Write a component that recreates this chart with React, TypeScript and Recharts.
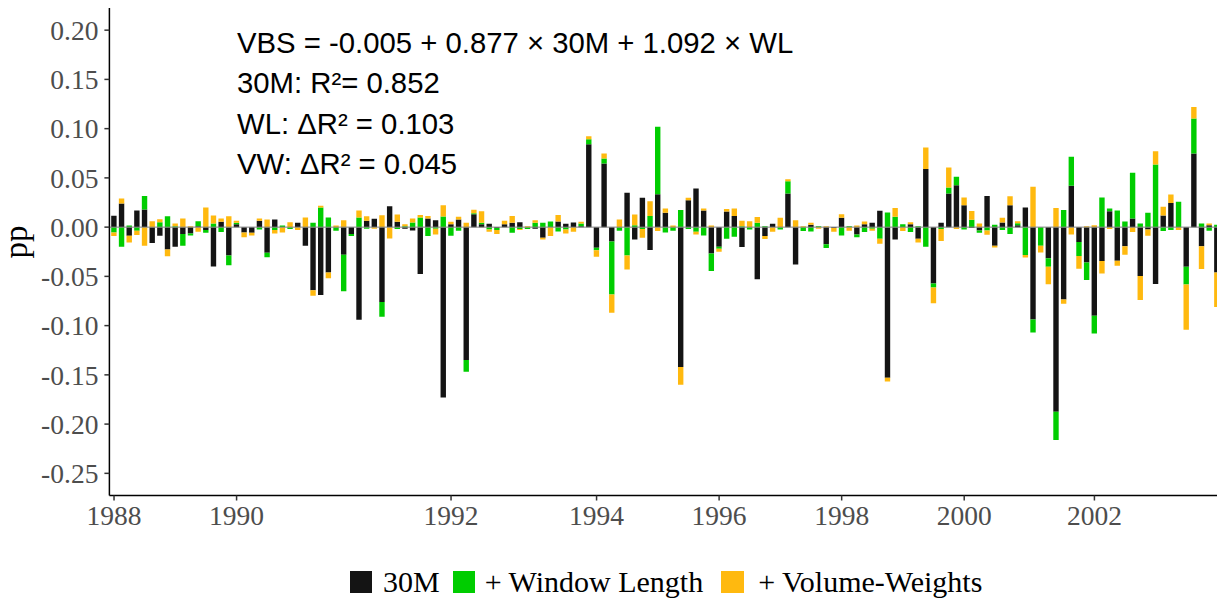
import React from 'react';
import { BarChart, Bar, XAxis, YAxis, ReferenceLine, Legend, Customized } from 'recharts';

// Policy-announcement events, numbered in order (1988 – 2003)
const eventCount = 145;
const events: string[] = Array.from({ length: eventCount }, (_, i) => String(i + 1));

// 30-minute window surprise (pp)
const m30 = [
  0.0115, 0.024, -0.0088, 0.017, 0.018, -0.016, -0.0088, -0.0227, -0.02, -0.007,
  -0.0064, 0.001, -0.003, -0.04, 0.0054, -0.0288, 0.003, -0.0054, -0.0058, 0.0064,
  -0.026, 0.0078, 0, 0, 0.0044, -0.019, -0.064, -0.069, -0.046, 0,
  -0.028, -0.007, -0.094, 0.0064, 0.0085, -0.076, 0.0213, 0.0054, -0.0017, -0.0034,
  -0.0477, 0.0088, 0.0071, -0.173, 0.003, 0.0078, -0.135, 0.0132, 0.003, 0.0034,
  -0.001, 0.003, 0.0044, 0.005, 0, -0.0017, -0.0108, 0, 0.0058, 0.0034,
  0.0047, 0.001, 0.0842, -0.021, 0.0646, -0.0145, 0, 0.0348, -0.0125, 0.0298,
  -0.0233, 0.0335, 0.0145, 0, -0.142, 0.0274, 0.0392, 0.0169, -0.0267, -0.02,
  0.0159, 0.0112, -0.0203, 0, -0.0528, -0.0091, 0.0034, 0, 0.0342, -0.0379,
  0, 0.0024, 0, -0.0173, -0.001, 0.0095, 0, -0.0074, 0.003, 0.0044,
  0.0166, -0.153, -0.0125, 0, 0.003, -0.0118, 0.0589, -0.0572, 0.0044, 0.0342,
  0.0426, 0.0223, -0.001, -0.0034, 0.0315, -0.0189, 0.0047, 0.0223, 0.002, 0.02,
  -0.0937, 0, -0.0315, -0.1874, -0.0734, 0.042, -0.0152, -0.0358, -0.09, -0.0345,
  0.0162, -0.0342, -0.0193, 0.0088, -0.0497, -0.0024, -0.0578, 0.0118, 0.0244, 0,
  -0.0403, 0.0748, -0.0193, 0.002, -0.046,
];

// Additional contribution from the window length (pp)
const wl = [
  -0.0054, -0.02, 0.0017, -0.0037, 0.0135, 0, 0.005, 0.011, 0.001, -0.012,
  -0.002, 0.005, -0.0027, 0.0037, -0.005, -0.0098, 0.0014, 0, 0, -0.0024,
  -0.0047, -0.003, 0.0017, -0.002, 0, 0, 0.0044, 0.02, 0.0098, -0.0037,
  -0.037, -0.002, 0.0098, -0.0017, 0, -0.015, 0, -0.002, 0.001, 0.0047,
  0.0098, -0.0091, -0.0017, 0.0108, -0.0088, -0.0037, -0.0118, 0.001, 0.0014, -0.0024,
  -0.002, 0, -0.0058, -0.002, -0.002, 0.0044, 0.0044, 0.0058, -0.0044, -0.0024,
  0, 0.0027, 0.0051, -0.0024, 0.0051, -0.0538, -0.0037, -0.0288, 0.002, -0.002,
  0.0112, 0.0683, -0.0054, -0.0037, 0.0173, -0.002, -0.0047, -0.0085, -0.0179, -0.002,
  -0.0118, -0.0098, 0.001, -0.0024, 0.0044, 0.001, 0, -0.0024, 0.0125, 0,
  -0.004, -0.0044, 0.001, -0.004, 0, -0.0085, 0.001, -0.003, -0.005, -0.0017,
  -0.0118, 0.0149, 0.0105, 0.003, -0.005, 0.001, -0.02, -0.004, -0.002, 0.0061,
  0.0085, -0.0024, 0.0074, -0.0024, -0.0034, 0.0024, -0.003, -0.0071, 0.002, -0.0284,
  -0.0132, -0.0189, -0.0088, -0.0288, 0.0173, 0.0294, -0.0142, -0.0179, -0.018, 0.0301,
  0.0027, 0.0169, 0.0058, 0.0463, 0.0037, 0.0145, 0.0636, -0.004, -0.003, 0.0257,
  -0.0179, 0.0355, 0.0037, -0.0037, 0.0024,
];

// Additional contribution from volume weighting (pp)
const vw = [
  -0.0037, 0.005, -0.0068, -0.0044, -0.019, 0.006, 0.003, -0.0068, 0.0027, 0.0088,
  0.001, -0.0047, 0.02, 0.008, 0.0034, 0.011, 0.002, -0.005, -0.0027, 0.0024,
  0.0078, -0.0034, -0.0054, 0.005, -0.003, 0.0098, -0.0058, 0.0017, -0.006, 0.0017,
  0.007, 0, 0.007, 0.0047, -0.0017, 0.012, -0.0115, 0.0074, 0.002, 0.004,
  0.0024, 0.0024, -0.0058, 0.0115, 0.0024, 0.0027, 0.0044, 0.0034, 0.0118, -0.0024,
  -0.004, 0.0034, 0.007, -0.001, 0.001, 0.0027, -0.0017, -0.009, 0.0064, -0.004,
  -0.0047, 0.0017, 0.003, -0.0068, 0.0051, -0.0186, 0.0078, -0.0142, 0.0108, -0.0088,
  0.0152, -0.004, 0.0044, 0.0017, -0.018, 0.0024, -0.0027, 0.002, 0.0017, -0.003,
  0.0024, 0.0078, 0.0054, 0.006, 0.006, -0.003, -0.0047, 0.0095, 0.002, 0.007,
  0.001, 0.002, -0.0017, 0.001, -0.0037, 0.0037, -0.0037, 0.0017, 0.0027, -0.002,
  -0.005, -0.0037, 0.0088, -0.004, 0.002, -0.0037, 0.022, -0.0162, -0.012, 0.0203,
  -0.002, 0.0078, 0.0091, 0.0037, -0.0044, -0.0017, 0.0047, 0.0091, 0.002, -0.0024,
  0.0409, -0.0068, -0.0176, 0.0193, -0.0044, -0.0074, -0.0129, 0.001, 0.002, -0.0125,
  -0.002, -0.005, -0.0088, -0.005, -0.0244, -0.0064, 0.0135, 0.0088, 0.0088, -0.003,
  -0.046, 0.0118, -0.0233, 0.0017, -0.035,
];

// Year labels and the event at which each year starts
const tickYears = ['1988', '1990', '1992', '1994', '1996', '1998', '2000', '2002'];
const tickEvents = ['1', '17', '45', '64', '80', '96', '112', '129'];

const yTicks = [-0.25, -0.2, -0.15, -0.1, -0.05, 0, 0.05, 0.1, 0.15, 0.2];

const annotationLines = [
  'VBS = -0.005 + 0.877 × 30M + 1.092 × WL',
  '30M: R²= 0.852',
  'WL: ΔR² = 0.103',
  'VW: ΔR² = 0.045',
];

const COLORS = { m30: '#141414', wl: '#00CD00', vw: '#FFB90F' };

const data = events.map((event, i) => ({ event, m30: m30[i], wl: wl[i], vw: vw[i] }));

const serif = '"Liberation Serif", "Times New Roman", serif';
const sans = '"Liberation Sans", Arial, sans-serif';

const LegendContent = () => (
  <div
    style={{
      display: 'flex',
      alignItems: 'center',
      height: 50,
      boxSizing: 'border-box',
      paddingTop: 10,
      paddingLeft: 342,
      fontFamily: serif,
      fontSize: 30,
      color: '#000',
      whiteSpace: 'nowrap',
    }}
  >
    <span style={{ display: 'inline-block', width: 22, height: 22, background: COLORS.m30 }} />
    <span style={{ marginLeft: 11 }}>30M</span>
    <span style={{ display: 'inline-block', width: 22, height: 22, background: COLORS.wl, marginLeft: 13 }} />
    <span style={{ marginLeft: 10 }}>+ Window Length</span>
    <span style={{ display: 'inline-block', width: 23, height: 22, background: COLORS.vw, marginLeft: 18 }} />
    <span style={{ marginLeft: 14 }}>+ Volume-Weights</span>
  </div>
);

const Annotations = () => (
  <g>
    <text
      transform="translate(19,234) rotate(-90)"
      textAnchor="middle"
      fontFamily={serif}
      fontSize={33}
      fill="#000"
    >
      pp
    </text>
    {annotationLines.map((line, i) => (
      <text key={i} x={229} y={44.5 + i * 40.5} fontFamily={sans} fontSize={29.3} fill="#000">
        {line}
      </text>
    ))}
  </g>
);

export default function App() {
  return (
    <BarChart
      width={1217}
      height={594}
      data={data}
      stackOffset="sign"
      margin={{ top: 0, right: 3.4, left: 0, bottom: 0 }}
    >
      <XAxis
        dataKey="event"
        type="category"
        ticks={tickEvents}
        interval={0}
        tickFormatter={(v: string) => tickYears[tickEvents.indexOf(String(v))] ?? ''}
        height={56.5}
        padding={{ left: 0.8, right: 0.8 }}
        axisLine={{ stroke: '#000', strokeWidth: 1.5 }}
        tickLine={{ stroke: '#333', strokeWidth: 1.5 }}
        tickSize={5}
        tickMargin={5}
        tick={{ fill: '#4D4D4D', fontSize: 27.5, fontFamily: serif }}
      />
      <YAxis
        type="number"
        domain={[-0.2725, 0.2225]}
        ticks={yTicks}
        allowDataOverflow
        width={101.4}
        tickFormatter={(v: number) => v.toFixed(2)}
        axisLine={{ stroke: '#000', strokeWidth: 1.5 }}
        tickLine={{ stroke: '#333', strokeWidth: 1.5 }}
        tickSize={5}
        tickMargin={6}
        tick={{ fill: '#4D4D4D', fontSize: 27.5, fontFamily: serif }}
      />
      <Bar dataKey="m30" stackId="s" fill={COLORS.m30} barSize={5.4} isAnimationActive={false} />
      <Bar dataKey="wl" stackId="s" fill={COLORS.wl} barSize={5.4} isAnimationActive={false} />
      <Bar dataKey="vw" stackId="s" fill={COLORS.vw} barSize={5.4} isAnimationActive={false} />
      <ReferenceLine y={0} stroke="#808080" strokeWidth={1} />
      <Legend verticalAlign="bottom" height={50} content={<LegendContent />} />
      <Customized component={<Annotations />} />
    </BarChart>
  );
}
